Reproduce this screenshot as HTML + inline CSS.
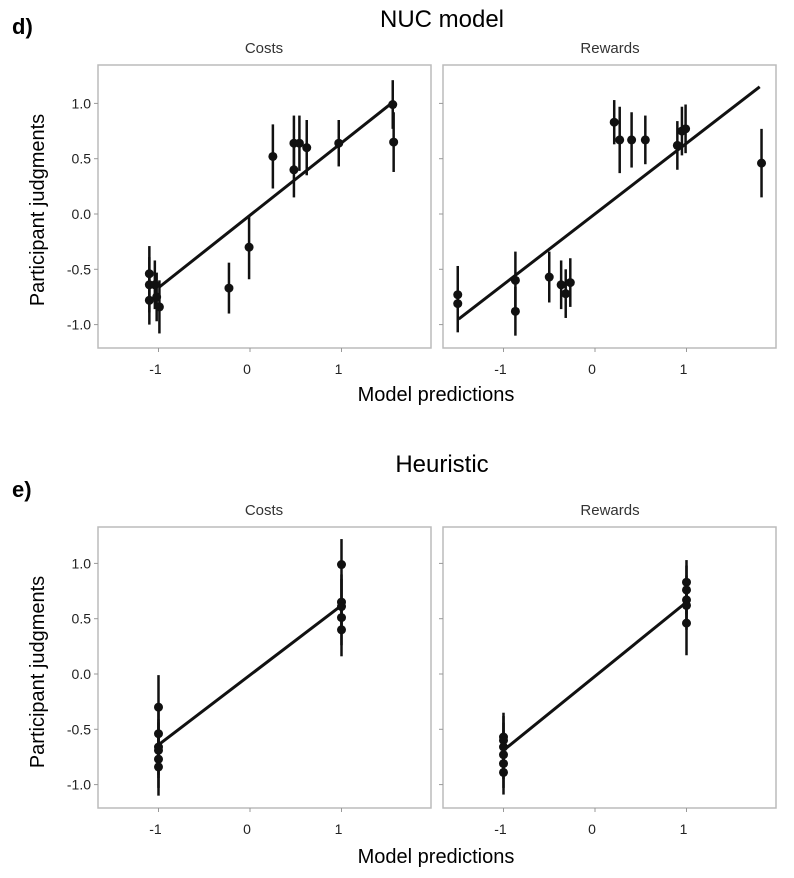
<!DOCTYPE html>
<html><head><meta charset="utf-8"><style>
html,body{margin:0;padding:0;background:#fff;}
svg{display:block;font-family:"Liberation Sans",sans-serif;}
</style></head><body>
<svg id="fig" width="794" height="878" viewBox="0 0 794 878" xmlns="http://www.w3.org/2000/svg">
<text x="12" y="34" font-size="22" font-weight="bold">d)</text>
<text x="442" y="27" font-size="24" text-anchor="middle">NUC model</text>
<text x="264" y="53" font-size="15" text-anchor="middle" fill="#333">Costs</text>
<text x="610" y="53" font-size="15" text-anchor="middle" fill="#333">Rewards</text>
<text transform="translate(44,210) rotate(-90)" font-size="20" text-anchor="middle">Participant judgments</text>
<text x="436" y="401" font-size="20" text-anchor="middle">Model predictions</text>
<text x="12" y="497" font-size="22" font-weight="bold">e)</text>
<text x="442" y="472" font-size="24" text-anchor="middle">Heuristic</text>
<text x="264" y="515" font-size="15" text-anchor="middle" fill="#333">Costs</text>
<text x="610" y="515" font-size="15" text-anchor="middle" fill="#333">Rewards</text>
<text transform="translate(44,672) rotate(-90)" font-size="20" text-anchor="middle">Participant judgments</text>
<text x="436" y="863" font-size="20" text-anchor="middle">Model predictions</text>
</svg>
<script>
const yTicks = [1.0, 0.5, 0.0, -0.5, -1.0];
const yTickLabels = ["1.0", "0.5", "0.0", "-0.5", "-1.0"];
const xTicks = [-1, 0, 1];
const xTickLabels = ["-1", "0", "1"];

const dCostsX = [-1.10,-1.10,-1.10,-1.04,-1.02,-0.99,-0.23,-0.01,0.25,0.48,0.48,0.54,0.62,0.97,1.56,1.57];
const dCostsY = [-0.54,-0.64,-0.78,-0.64,-0.75,-0.84,-0.67,-0.30,0.52,0.64,0.40,0.64,0.60,0.64,0.99,0.65];
const dCostsErr = [0.25,0.25,0.22,0.22,0.22,0.24,0.23,0.29,0.29,0.25,0.25,0.25,0.25,0.21,0.22,0.27];
const dCostsLine = [-0.99,-0.66,1.56,1.01];

const dRewX = [-1.50,-1.50,-0.87,-0.87,-0.50,-0.37,-0.32,-0.27,0.21,0.27,0.40,0.55,0.90,0.95,0.99,1.82];
const dRewY = [-0.73,-0.81,-0.60,-0.88,-0.57,-0.64,-0.72,-0.62,0.83,0.67,0.67,0.67,0.62,0.75,0.77,0.46];
const dRewErr = [0.26,0.26,0.26,0.22,0.23,0.22,0.22,0.22,0.20,0.30,0.25,0.22,0.22,0.22,0.22,0.31];
const dRewLine = [-1.49,-0.95,1.80,1.15];

const eCostsX = [-1,-1,-1,-1,-1,-1,1,1,1,1,1];
const eCostsY = [-0.30,-0.54,-0.66,-0.69,-0.77,-0.84,0.99,0.65,0.61,0.51,0.40];
const eCostsErr = [0.29,0.25,0.25,0.25,0.26,0.26,0.23,0.25,0.25,0.25,0.24];
const eCostsLine = [-1,-0.64,1,0.62];

const eRewX = [-1,-1,-1,-1,-1,-1,1,1,1,1,1];
const eRewY = [-0.57,-0.60,-0.66,-0.73,-0.81,-0.89,0.83,0.76,0.67,0.62,0.46];
const eRewErr = [0.22,0.22,0.22,0.22,0.22,0.20,0.20,0.22,0.22,0.22,0.29];
const eRewLine = [-1,-0.69,1,0.65];

const NS = "http://www.w3.org/2000/svg";
const svg = document.getElementById("fig");
function mk(tag, attrs, parent) {
  const e = document.createElementNS(NS, tag);
  for (const k in attrs) e.setAttribute(k, attrs[k]);
  (parent || svg).appendChild(e);
  return e;
}
function panel(name, left, top, right, bottom, x0px, yoff, xs, ys, errs, line, showY) {
  const g = mk("g", {});
  
  
  const sx = v => x0px + v * 91.5;
  const sy = v => yoff - v * 110.6;
  const box = mk("rect", {x:left, y:top, width:right-left, height:bottom-top, fill:"none", stroke:"#bbb", "stroke-width":1.5}, g);
  
  
  yTicks.forEach((t, i) => {
    const y = sy(t);
    mk("line", {x1:left-4, x2:left, y1:y, y2:y, stroke:"#999", "stroke-width":1}, g);
    if (showY) {
      const tx = mk("text", {x:left-7, y:y+5, "font-size":14, "text-anchor":"end", fill:"#222"}, g);
      tx.textContent = yTickLabels[i];
      
      
    }
  });
  xTicks.forEach((t, i) => {
    const x = sx(t);
    mk("line", {x1:x, x2:x, y1:bottom, y2:bottom+4, stroke:"#999", "stroke-width":1}, g);
    const tx = mk("text", {x:x-3, y:bottom+26, "font-size":14, "text-anchor":"middle", fill:"#222"}, g);
    tx.textContent = xTickLabels[i];
    
    
  });
  for (let i = 0; i < xs.length; i++) {
    const eb = mk("line", {x1:sx(xs[i]), x2:sx(xs[i]), y1:sy(ys[i]+errs[i]), y2:sy(ys[i]-errs[i]), stroke:"#111", "stroke-width":2.5}, g);
    
    
  }
  const ln = mk("line", {x1:sx(line[0]), y1:sy(line[1]), x2:sx(line[2]), y2:sy(line[3]), stroke:"#111", "stroke-width":3}, g);
  
  
  for (let i = 0; i < xs.length; i++) {
    const c = mk("circle", {cx:sx(xs[i]), cy:sy(ys[i]), r:4.5, fill:"#111"}, g);
    
    
  }
}
panel("nuc-costs-panel", 98, 65, 431, 348, 250, 214, dCostsX, dCostsY, dCostsErr, dCostsLine, true);
panel("nuc-rewards-panel", 443, 65, 776, 348, 595, 214, dRewX, dRewY, dRewErr, dRewLine, false);
panel("heuristic-costs-panel", 98, 527, 431, 808, 250, 674, eCostsX, eCostsY, eCostsErr, eCostsLine, true);
panel("heuristic-rewards-panel", 443, 527, 776, 808, 595, 674, eRewX, eRewY, eRewErr, eRewLine, false);
</script>
</body></html>
